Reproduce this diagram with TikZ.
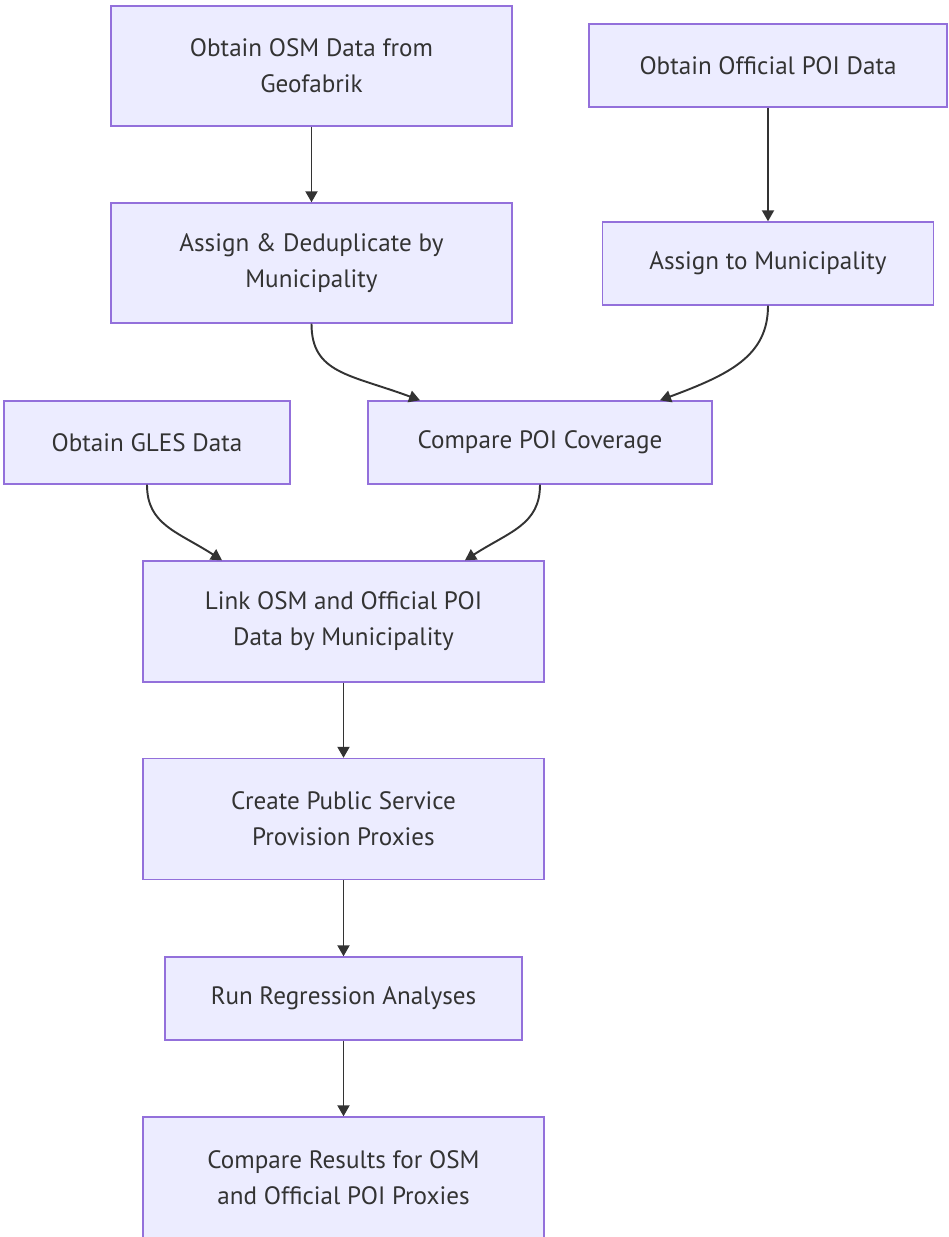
\documentclass[tikz,border=0pt]{standalone}
\usepackage{fontspec}
\setmainfont{PT Sans}
\usetikzlibrary{arrows.meta}
\definecolor{boxfill}{HTML}{ECECFF}
\definecolor{boxline}{HTML}{9370DB}
\definecolor{ink}{HTML}{333333}
\tikzset{
  stage/.style={draw=boxline, fill=boxfill, line width=0.8pt, text=ink, align=center,
    font=\fontsize{14.3}{20.5}\selectfont, inner sep=0pt},
  flow/.style={draw=ink, line width=1.1pt, -{Triangle[length=0.22cm,width=0.24cm]}}
}
\begin{document}
\begin{tikzpicture}[x=0.02cm,y=-0.02cm]
\useasboundingbox (0,0) rectangle (948,1237);

% Sources
\node[stage, minimum width=8.02cm, minimum height=2.4cm] (osm) at (311.5,66) {Obtain OSM Data from\\Geofabrik};
\node[stage, minimum width=7.16cm, minimum height=1.66cm] (offpoi) at (768,65.5) {Obtain Official POI Data};
\node[stage, minimum width=8.02cm, minimum height=2.4cm] (dedup) at (311.5,263) {Assign \& Deduplicate by\\Municipality};
\node[stage, minimum width=6.62cm, minimum height=1.66cm] (assign) at (768,263.5) {Assign to Municipality};
\node[stage, minimum width=5.72cm, minimum height=1.66cm] (gles) at (147,442.5) {Obtain GLES Data};
\node[stage, minimum width=6.88cm, minimum height=1.66cm] (cover) at (540,442.5) {Compare POI Coverage};

% Analysis
\node[stage, minimum width=8.02cm, minimum height=2.42cm] (link) at (343.5,621.5) {Link OSM and Official POI\\Data by Municipality};
\node[stage, minimum width=8.02cm, minimum height=2.42cm] (proxy) at (343.5,819) {Create Public Service\\Provision Proxies};
\node[stage, minimum width=7.14cm, minimum height=1.66cm] (regr) at (343.5,998.5) {Run Regression Analyses};
\node[stage, minimum width=8.02cm, minimum height=2.42cm] (result) at (343.5,1177.5) {Compare Results for OSM\\and Official POI Proxies};

% Arrows
\draw[flow] (osm) -- (dedup);
\draw[flow] (offpoi) -- (assign);
\draw[flow] (dedup.south) .. controls +(0,50) and +(-70,-26) .. ([xshift=-2.4cm]cover.north);
\draw[flow] (assign.south) .. controls +(0,50) and +(70,-26) .. ([xshift=2.4cm]cover.north);
\draw[flow] (gles.south) .. controls +(0,40) and +(-45,-29) .. ([xshift=-2.43cm]link.north);
\draw[flow] (cover.south) .. controls +(0,40) and +(45,-29) .. ([xshift=2.43cm]link.north);
\draw[flow] (link) -- (proxy);
\draw[flow] (proxy) -- (regr);
\draw[flow] (regr) -- (result);

\end{tikzpicture}
\end{document}
